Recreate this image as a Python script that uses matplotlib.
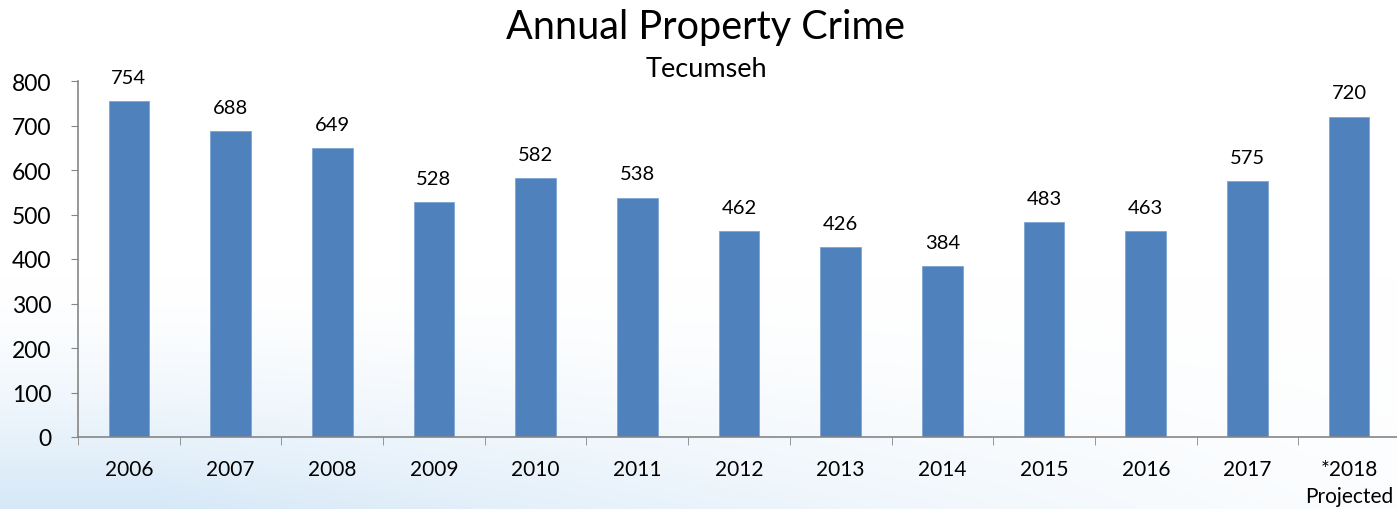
import numpy as np
import matplotlib
matplotlib.use('Agg')
import matplotlib.pyplot as plt

# datos
years = ['2006', '2007', '2008', '2009', '2010', '2011', '2012',
         '2013', '2014', '2015', '2016', '2017', '*2018\nProjected']
crimes = [754, 688, 649, 528, 582, 538, 462, 426, 384, 483, 463, 575, 720]

plt.rcParams['font.family'] = ['Lato', 'DejaVu Sans']

fig = plt.figure(figsize=(13.97, 5.10), dpi=100)

# fondo con degradado azul claro abajo a la izquierda
bg = fig.add_axes([0, 0, 1, 1], zorder=-10)
yy, xx = np.mgrid[0:1:200j, 0:1:400j]
t = np.clip((yy - 0.55) / 0.45, 0, 1) * np.clip(1.1 - xx * 0.9, 0, 1)
t = t ** 1.5
c0 = np.array([1.0, 1.0, 1.0])
c1 = np.array([0.84, 0.91, 0.97])
img = c0 + (c1 - c0) * t[..., None]
bg.imshow(img, aspect='auto', extent=[0, 1, 0, 1], origin='upper')
bg.axis('off')

ax = fig.add_axes([78 / 1397, 72 / 510, 1322 / 1397, 356 / 510])
ax.patch.set_alpha(0)
x = np.arange(len(years))
bars = ax.bar(x, crimes, width=0.4, color='#4F81BD', edgecolor='#7EA4D3', linewidth=0.6)
ax.bar_label(bars, labels=[str(v) for v in crimes], padding=11, fontsize=14.5)

ax.set_xlim(-0.5, len(years) - 0.5)
ax.set_ylim(0, 800)
ax.set_yticks(range(0, 801, 100))
ax.tick_params(axis='y', labelsize=16.5, length=5, color='#868686', pad=14)

ax.set_xticks(x)
ax.set_xticklabels(years, fontsize=15, linespacing=1.45)
ax.tick_params(axis='x', length=0, pad=16)
ax.set_xticks(np.arange(-0.5, len(years), 1), minor=True)
ax.tick_params(axis='x', which='minor', length=6, color='#868686')

for s in ['top', 'right']:
    ax.spines[s].set_visible(False)
for s in ['left', 'bottom']:
    ax.spines[s].set_color('#868686')
    ax.spines[s].set_linewidth(1.2)

fig.text(706 / 1397, 1 - 28 / 510, 'Annual Property Crime', ha='center', va='center', fontsize=28.5)
fig.text(706 / 1397, 1 - 70 / 510, 'Tecumseh', ha='center', va='center', fontsize=19.5)

fig.savefig('out.png', dpi=100)
